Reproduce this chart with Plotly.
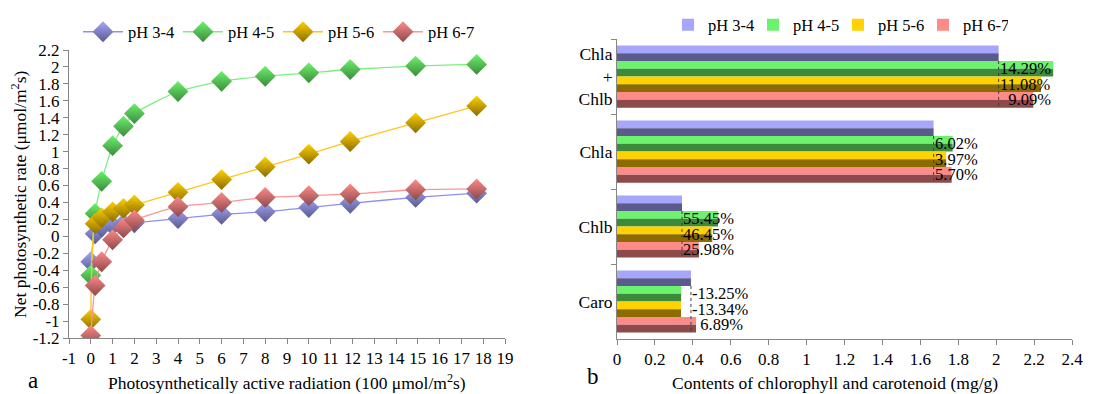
import plotly.graph_objects as go

# ---------------- Data: panel a ----------------
par = [0, 0.2, 0.5, 1, 1.5, 2, 4, 6, 8, 10, 11.9, 14.9, 17.7]
rate_ph34 = [-0.30, 0.03, 0.11, 0.13, 0.15, 0.16, 0.21, 0.26, 0.29, 0.34, 0.39, 0.46, 0.51]
rate_ph45 = [-0.46, 0.27, 0.65, 1.07, 1.30, 1.45, 1.71, 1.83, 1.89, 1.93, 1.97, 2.01, 2.03]
rate_ph56 = [-0.98, 0.15, 0.22, 0.29, 0.33, 0.37, 0.52, 0.67, 0.82, 0.97, 1.12, 1.34, 1.54]
rate_ph67 = [-1.17, -0.58, -0.30, -0.04, 0.10, 0.19, 0.35, 0.40, 0.46, 0.48, 0.50, 0.55, 0.56]
x_ticks_a = list(range(-1, 20))
y_ticks_a = [-1.2, -1, -0.8, -0.6, -0.4, -0.2, 0, 0.2, 0.4, 0.6, 0.8, 1, 1.2, 1.4, 1.6, 1.8, 2, 2.2]

# ---------------- Data: panel b ----------------
pigments = ["Chla<br>+<br>Chlb", "Chla", "Chlb", "Caro"]
base_ph34 = [2.013, 1.670, 0.343, 0.390]
pct_ph45 = [14.29, 6.02, 55.45, -13.25]
pct_ph56 = [11.08, 3.97, 46.45, -13.34]
pct_ph67 = [9.09, 5.70, 25.98, 6.89]
x_ticks_b = [0, 0.2, 0.4, 0.6, 0.8, 1, 1.2, 1.4, 1.6, 1.8, 2, 2.2, 2.4]

series_names = ["pH 3-4", "pH 4-5", "pH 5-6", "pH 6-7"]
line_colors = ["#8F8FF2", "#7CF07C", "#FFC61A", "#FF9494"]
light_colors = ["#A6A6FA", "#6CF26C", "#FFD200", "#FF8A8A"]
dark_colors = ["#5A5A8E", "#3C8A3C", "#8C6C00", "#8C4A4A"]

FONT = "Liberation Serif, Times New Roman, DejaVu Serif, serif"
W, H = 1094, 394


def fmt(v):
    return f"{v:g}"  # plain hyphen-minus as in the reference


fig = go.Figure()

# ---- panel a: lines ----
rates = [rate_ph34, rate_ph45, rate_ph56, rate_ph67]
for name, ys, lc, light, dark in zip(series_names, rates, line_colors, light_colors, dark_colors):
    fig.add_trace(go.Scatter(
        x=par, y=ys, name=name, mode="lines+markers",
        line=dict(color=lc, width=1.3, shape="spline", smoothing=0.6),
        marker=dict(symbol="diamond", size=16, color=light,
                    gradient=dict(type="vertical", color=dark),
                    line=dict(width=0)),
        xaxis="x", yaxis="y", legend="legend",
    ))

# ---- panel b: bars (light upper half, dark lower half) ----
values_b = [base_ph34,
            [b * (1 + p / 100) for b, p in zip(base_ph34, pct_ph45)],
            [b * (1 + p / 100) for b, p in zip(base_ph34, pct_ph56)],
            [b * (1 + p / 100) for b, p in zip(base_ph34, pct_ph67)]]
group_w = 0.83
bw = group_w / 4
for i, (name, vals, light, dark) in enumerate(zip(series_names, values_b, light_colors, dark_colors)):
    top = -group_w / 2 + i * bw
    fig.add_trace(go.Bar(
        y=pigments, x=vals, orientation="h", name=name,
        offset=top, width=bw / 2, marker=dict(color=light, line=dict(width=0)),
        xaxis="x2", yaxis="y2", legend="legend2", showlegend=True,
        hoverinfo="x+name",
    ))
    fig.add_trace(go.Bar(
        y=pigments, x=vals, orientation="h", name=name,
        offset=top + bw / 2, width=bw / 2, marker=dict(color=dark, line=dict(width=0)),
        xaxis="x2", yaxis="y2", showlegend=False, hoverinfo="x+name",
    ))

annotations = []
shapes = []
pcts = [pct_ph45, pct_ph56, pct_ph67]
for k, base in enumerate(base_ph34):
    shapes.append(dict(type="line", xref="x2", yref="y2", x0=base, x1=base,
                       y0=k - group_w / 2 + bw, y1=k + group_w / 2,
                       line=dict(color="#404040", width=1, dash="dot")))
    for j, pl in enumerate(pcts):
        p = pl[k]
        txt = f"{p:.2f}%"
        if p >= 0 and len(txt) < 6 and k == 0:
            txt = "\u2007" + txt
        elif p >= 0 and k == 3:
            txt = "\u00a0\u00a0" + txt
        annotations.append(dict(
            x=base, y=k - group_w / 2 + (j + 1.5) * bw, xref="x2", yref="y2",
            text=txt, showarrow=False, xanchor="left", yanchor="middle",
            xshift=-1, font=dict(family=FONT, size=16.5, color="black"),
        ))


def px_x(p):
    return p / W


def px_y(p):
    return (H - p) / H


def label(text, x, y, size=17.5, angle=0):
    return dict(text=text, x=px_x(x), y=px_y(y), xref="paper", yref="paper",
                xanchor="center", yanchor="middle", showarrow=False, textangle=angle,
                font=dict(family=FONT, size=size, color="black"))


annotations += [
    label("Photosynthetically active radiation (100 μmol/m<sup>2</sup>s)", 287, 382),
    label("Net photosynthetic rate (μmol/m<sup>2</sup>s)", 19, 194, angle=-90),
    label("Contents of chlorophyll and carotenoid (mg/g)", 835, 383),
    label("a", 33, 380, size=23),
    label("b", 593, 376, size=23),
]

axis_common = dict(showgrid=False, zeroline=False, showline=True, linecolor="#868686", linewidth=1,
                   ticks="outside", ticklen=5, tickcolor="#868686", automargin=False,
                   tickfont=dict(family=FONT, size=17, color="black"))

fig.update_layout(
    width=W, height=H,
    margin=dict(l=0, r=0, t=0, b=0, autoexpand=False),
    paper_bgcolor="white", plot_bgcolor="white",
    font=dict(family=FONT, size=16, color="black"),
    barmode="overlay",
    xaxis=dict(domain=[px_x(69), px_x(505)], range=[-1, 19], tickvals=x_ticks_a,
               ticktext=[fmt(v) for v in x_ticks_a], anchor="y", **axis_common),
    yaxis=dict(domain=[px_y(338), px_y(50)], range=[-1.2, 2.2], tickvals=y_ticks_a,
               ticktext=[fmt(v) for v in y_ticks_a], anchor="x", **axis_common),
    xaxis2=dict(domain=[px_x(617), px_x(1072)], range=[0, 2.4], tickvals=x_ticks_b,
                ticktext=[fmt(v) for v in x_ticks_b], anchor="y2", **axis_common),
    yaxis2=dict(domain=[px_y(339), px_y(39)], type="category", autorange="reversed",
                tickson="boundaries", anchor="x2", **axis_common),
    legend=dict(orientation="h", x=px_x(78), y=px_y(32), xanchor="left", yanchor="middle",
                font=dict(family=FONT, size=16.5), entrywidth=45, entrywidthmode="pixels",
                bgcolor="rgba(0,0,0,0)", itemwidth=40, tracegroupgap=0),
    legend2=dict(orientation="h", x=px_x(668), y=px_y(25), xanchor="left", yanchor="middle",
                 font=dict(family=FONT, size=16.5), entrywidth=40, entrywidthmode="pixels",
                 bgcolor="rgba(0,0,0,0)", itemwidth=30),
    annotations=annotations,
    shapes=shapes,
    showlegend=True,
)
fig.update_yaxes(tickfont=dict(family=FONT, size=17.5), selector=dict(anchor="x2"))

fig.write_html("out.html", config={"displayModeBar": False},
               post_script="document.body.style.margin='0px';document.body.style.overflow='hidden';")
